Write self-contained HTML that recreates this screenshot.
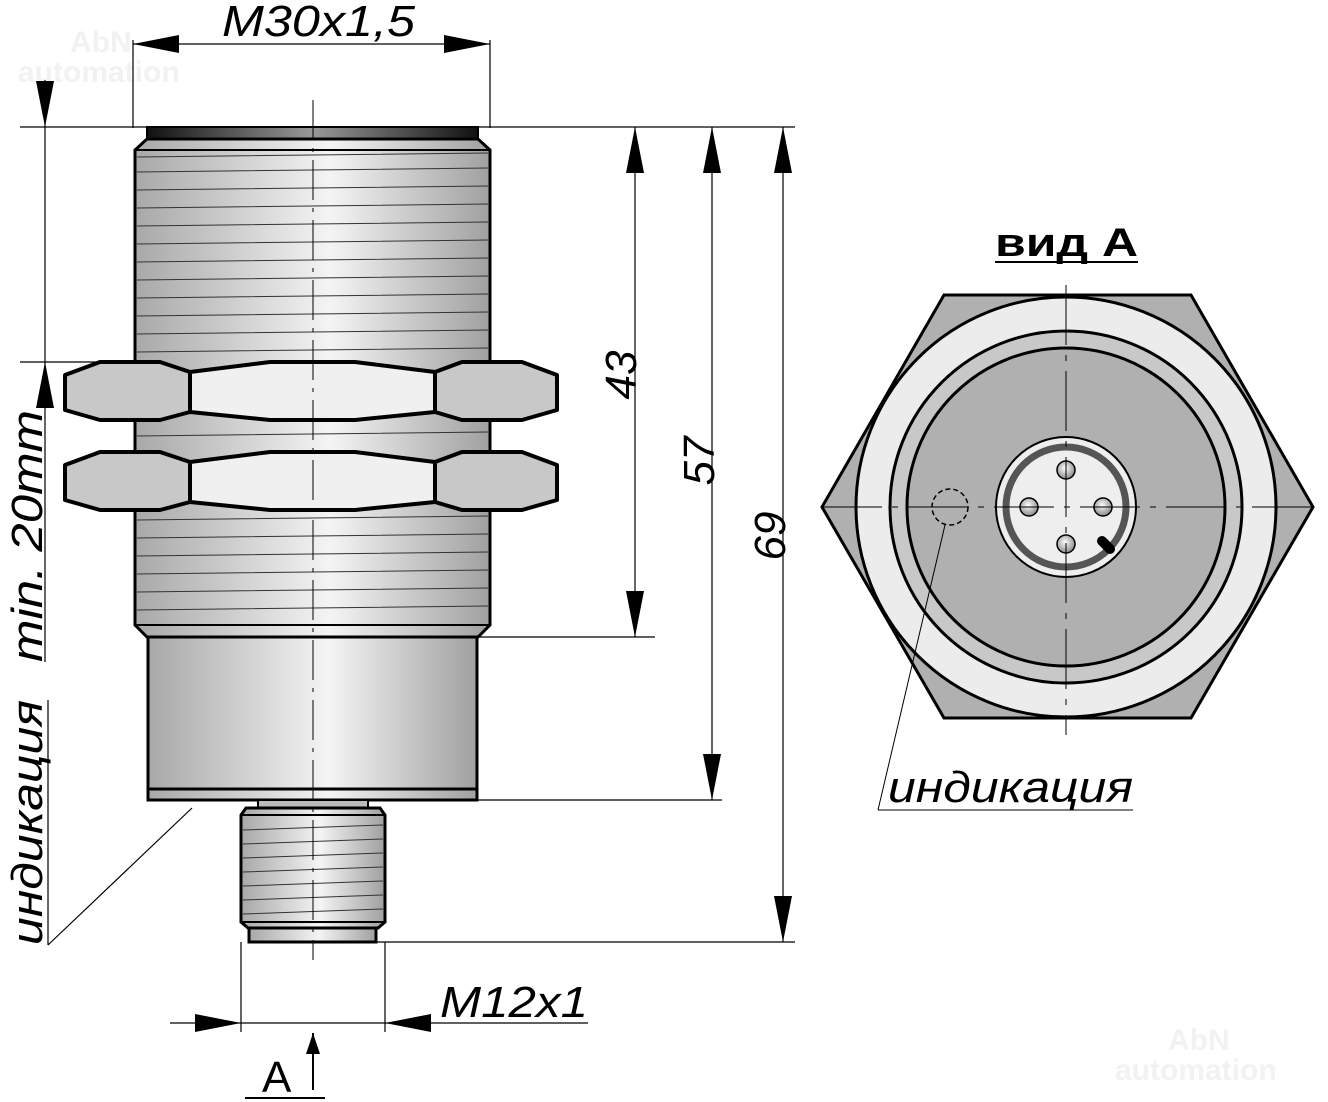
<!DOCTYPE html>
<html><head><meta charset="utf-8"><style>html,body{margin:0;padding:0;background:#fff}svg{display:block}</style></head><body>
<svg width="1328" height="1102" viewBox="0 0 1328 1102" xmlns="http://www.w3.org/2000/svg" font-family="Liberation Sans, sans-serif">
<defs>
<linearGradient id="cyl" x1="0" x2="1" y1="0" y2="0">
<stop offset="0" stop-color="#a8a8a8"/><stop offset="0.55" stop-color="#f4f4f4"/><stop offset="1" stop-color="#a0a0a0"/></linearGradient>
<linearGradient id="dark" x1="0" x2="1"><stop offset="0" stop-color="#111"/><stop offset="0.5" stop-color="#999"/><stop offset="1" stop-color="#111"/></linearGradient>
<radialGradient id="pin" cx="0.45" cy="0.4" r="0.6"><stop offset="0" stop-color="#fff"/><stop offset="1" stop-color="#888"/></radialGradient>
<marker id="ar" viewBox="0 0 46 18" refX="46" refY="9" markerWidth="46" markerHeight="18" markerUnits="userSpaceOnUse" orient="auto-start-reverse"><path d="M0,0 L46,9 L0,18Z" fill="#000"/></marker>
</defs>
<g fill="#f2f2f2" font-weight="bold" font-size="30"><text x="70" y="52">AbN</text><text x="18" y="82">automation</text><text x="1168" y="1050">AbN</text><text x="1115" y="1080">automation</text></g>

<!-- body -->
<rect x="147" y="127" width="331" height="12" fill="url(#dark)" stroke="#000" stroke-width="2"/>
<path d="M147,139 L478,139 L490,150 L490,625 L478,637 L147,637 L135,625 L135,150Z" fill="url(#cyl)" stroke="#000" stroke-width="3"/>
<line x1="135" y1="150" x2="490" y2="150" stroke="#000" stroke-width="2"/>
<line x1="135" y1="625" x2="490" y2="625" stroke="#000" stroke-width="2"/>
<g stroke="#333" stroke-width="1">
<path d="M137,157 L488,153 M137,172 L488,168 M137,190 L488,186 M137,208 L488,204 M137,226 L488,222 M137,244 L488,240 M137,262 L488,258 M137,280 L488,276 M137,298 L488,294 M137,316 L488,312 M137,334 L488,330 M137,352 L488,348 M137,436 L488,432 M137,520 L488,516 M137,538 L488,534 M137,556 L488,552 M137,574 L488,570 M137,592 L488,588 M137,610 L488,606"/></g>
<!-- nuts -->
<g stroke="#000" stroke-width="4" stroke-linejoin="round">
<path d="M190,372 L435,372 L435,412 L190,412Z" fill="#555"/>
<path d="M65,375 L100,362 L160,362 L190,372 L190,412 L160,420 L100,420 L65,410Z" fill="#c8c8c8"/>
<path d="M557,375 L522,362 L462,362 L435,372 L435,412 L462,420 L522,420 L557,410Z" fill="#c8c8c8"/>
<path d="M190,372 L270,362 L355,362 L435,372 L435,412 L355,420 L270,420 L190,412Z" fill="#f0f0f0"/>
<path d="M190,462 L435,462 L435,502 L190,502Z" fill="#555"/>
<path d="M65,465 L100,452 L160,452 L190,462 L190,502 L160,510 L100,510 L65,500Z" fill="#c8c8c8"/>
<path d="M557,465 L522,452 L462,452 L435,462 L435,502 L462,510 L522,510 L557,500Z" fill="#c8c8c8"/>
<path d="M190,462 L270,452 L355,452 L435,462 L435,502 L355,510 L270,510 L190,502Z" fill="#f0f0f0"/>
</g>
<!-- housing -->
<rect x="148" y="637" width="329" height="163" fill="url(#cyl)" stroke="#000" stroke-width="3"/>
<line x1="148" y1="789" x2="477" y2="789" stroke="#000" stroke-width="3"/>
<!-- connector -->
<rect x="258" y="800" width="110" height="8" fill="#bbb" stroke="#000" stroke-width="2"/>
<path d="M246,808 L380,808 L385,815 L385,922 L378,928 L248,928 L241,922 L241,815Z" fill="url(#cyl)" stroke="#000" stroke-width="3"/>
<line x1="241" y1="815" x2="385" y2="815" stroke="#000" stroke-width="2"/>
<line x1="241" y1="922" x2="385" y2="922" stroke="#000" stroke-width="2"/>
<g stroke="#333" stroke-width="1"><path d="M243,830 L383,825 M243,844 L383,839 M243,858 L383,853 M243,872 L383,867 M243,886 L383,881 M243,900 L383,895 M243,914 L383,909"/></g>
<rect x="249" y="928" width="127" height="14" fill="url(#cyl)" stroke="#000" stroke-width="3"/>
<!-- centerline -->
<line x1="313" y1="100" x2="313" y2="960" stroke="#000" stroke-width="1" stroke-dasharray="40,8,4,8"/>

<g stroke="#000" stroke-width="1.2" fill="none">
<line x1="133" y1="40" x2="133" y2="128"/><line x1="490" y1="40" x2="490" y2="128"/>
<line x1="133" y1="44" x2="490" y2="44" marker-start="url(#ar)" marker-end="url(#ar)"/>
<line x1="20" y1="127" x2="795" y2="127"/>
<line x1="20" y1="362" x2="135" y2="362"/>
<line x1="45" y1="80" x2="45" y2="127" marker-end="url(#ar)"/>
<line x1="45" y1="127" x2="45" y2="362"/>
<line x1="45" y1="410" x2="45" y2="362" marker-end="url(#ar)"/>
<line x1="45" y1="410" x2="45" y2="662"/>
<line x1="48" y1="700" x2="48" y2="945"/>
<line x1="48" y1="945" x2="192" y2="808"/>
<line x1="478" y1="637" x2="655" y2="637"/>
<line x1="477" y1="800" x2="722" y2="800"/>
<line x1="376" y1="942" x2="795" y2="942"/>
<line x1="635" y1="127" x2="635" y2="637" marker-start="url(#ar)" marker-end="url(#ar)"/>
<line x1="712" y1="127" x2="712" y2="800" marker-start="url(#ar)" marker-end="url(#ar)"/>
<line x1="783" y1="127" x2="783" y2="942" marker-start="url(#ar)" marker-end="url(#ar)"/>
<line x1="241" y1="942" x2="241" y2="1032"/><line x1="385" y1="942" x2="385" y2="1032"/>
<line x1="170" y1="1023" x2="241" y2="1023" marker-end="url(#ar)"/>
<line x1="241" y1="1023" x2="385" y2="1023"/>
<line x1="588" y1="1023" x2="385" y2="1023" marker-end="url(#ar)"/>
<line x1="313" y1="1090" x2="313" y2="1033" stroke-width="2"/>
<line x1="245" y1="1098" x2="325" y2="1098" stroke-width="2"/>
</g>
<path d="M313,1033 L306,1054 L320,1054Z" fill="#000"/>

<g font-style="italic" font-size="44" fill="#000">
<text x="222" y="36" textLength="193" lengthAdjust="spacingAndGlyphs">M30x1,5</text>
<text x="440" y="1017" textLength="148" lengthAdjust="spacingAndGlyphs">M12x1</text>
<text transform="translate(636,375) rotate(-90)" text-anchor="middle">43</text>
<text transform="translate(714,461) rotate(-90)" text-anchor="middle">57</text>
<text transform="translate(785,536) rotate(-90)" text-anchor="middle">69</text>
<text transform="translate(42,662) rotate(-90)" textLength="252" lengthAdjust="spacingAndGlyphs">min. 20mm</text>
<text transform="translate(42,945) rotate(-90)" textLength="245" lengthAdjust="spacingAndGlyphs">индикация</text>
<text x="888" y="802" textLength="245" lengthAdjust="spacingAndGlyphs">индикация</text>
</g>
<text x="262" y="1092" font-size="44" fill="#000">A</text>

<text x="995" y="256" font-size="40" font-weight="bold" fill="#000" textLength="143" lengthAdjust="spacingAndGlyphs">вид A</text>
<line x1="995" y1="262" x2="1138" y2="262" stroke="#000" stroke-width="2"/>
<path d="M944,295 L1191,295 L1313,507 L1191,718 L944,718 L822,507Z" fill="#b0b0b0" stroke="#000" stroke-width="3"/>
<circle cx="1066" cy="507" r="210" fill="#ececec" stroke="#000" stroke-width="3"/>
<circle cx="1066" cy="507" r="176" fill="#c8c8c8" stroke="#000" stroke-width="3"/>
<circle cx="1066" cy="507" r="159" fill="#b0b0b0" stroke="#000" stroke-width="3"/>
<circle cx="1066" cy="507" r="70" fill="#eee" stroke="#000" stroke-width="2"/>
<circle cx="1066" cy="507" r="60" fill="#eee" stroke="#555" stroke-width="7"/>
<g fill="url(#pin)" stroke="#000" stroke-width="1.5">
<circle cx="1066" cy="470" r="9"/><circle cx="1029" cy="507" r="9"/><circle cx="1103" cy="507" r="9"/><circle cx="1066" cy="544" r="9"/></g>
<line x1="1102" y1="541" x2="1110" y2="549" stroke="#000" stroke-width="10" stroke-linecap="round"/>
<circle cx="950" cy="507" r="18" fill="none" stroke="#000" stroke-width="1.5" stroke-dasharray="5,3"/>
<g stroke="#000" stroke-width="1" fill="none">
<line x1="822" y1="507" x2="1320" y2="507" stroke-dasharray="60,10,6,10"/>
<line x1="1066" y1="285" x2="1066" y2="735" stroke-dasharray="60,10,6,10"/>
<line x1="945" y1="525" x2="878" y2="810"/>
<line x1="878" y1="810" x2="1133" y2="810"/>
</g>
</svg>
</body></html>
